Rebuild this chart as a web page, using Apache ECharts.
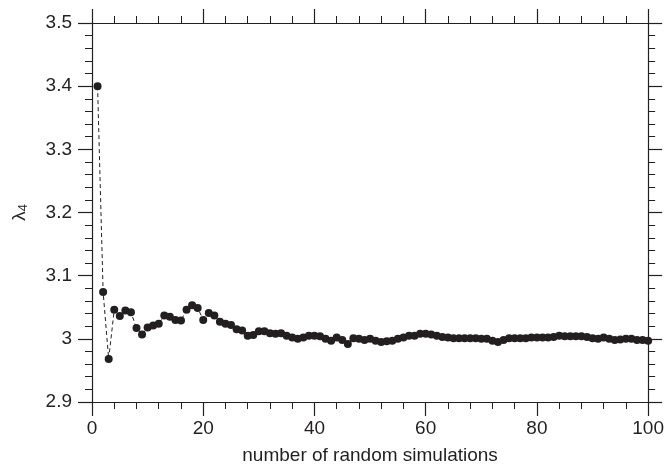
<!DOCTYPE html>
<html>
<head>
<meta charset="utf-8">
<script src="https://cdn.jsdelivr.net/npm/echarts@6/dist/echarts.min.js"></script>
<style>
  html, body { margin: 0; padding: 0; background: #fff; }
  #chart { width: 667px; height: 472px; }
</style>
</head>
<body>
<div id="chart"></div>
<script>
// number of random simulations (1..100)
const simCounts = [];
for (let i = 1; i <= 100; i++) simCounts.push(i);

// lambda_4 estimate after each simulation
const lambda4 = [
  3.400, 3.074, 2.968, 3.046, 3.036, 3.045, 3.042, 3.017, 3.007, 3.018,
  3.021, 3.024, 3.037, 3.035, 3.030, 3.029, 3.046, 3.053, 3.049, 3.030,
  3.041, 3.037, 3.027, 3.024, 3.022, 3.015, 3.013, 3.005, 3.006, 3.012,
  3.012, 3.009, 3.008, 3.009, 3.005, 3.002, 3.000, 3.002, 3.005, 3.005,
  3.004, 3.000, 2.997, 3.002, 2.998, 2.992, 3.001, 3.000, 2.998, 3.000,
  2.997, 2.995, 2.996, 2.997, 3.000, 3.002, 3.005, 3.005, 3.008, 3.008,
  3.007, 3.005, 3.003, 3.002, 3.001, 3.001, 3.001, 3.001, 3.001, 3.000,
  3.000, 2.997, 2.995, 2.998, 3.001, 3.001, 3.001, 3.001, 3.002, 3.002,
  3.002, 3.002, 3.003, 3.005, 3.004, 3.004, 3.004, 3.004, 3.003, 3.001,
  3.000, 3.002, 3.000, 2.998, 2.999, 3.000, 3.000, 2.998, 2.998, 2.997
];

const xTicks = [0, 20, 40, 60, 80, 100];
const yTicks = [2.9, 3, 3.1, 3.2, 3.3, 3.4, 3.5];

const ink = '#231f20';
const font = 'Liberation Sans, Arial, sans-serif';

const chart = echarts.init(document.getElementById('chart'));

const axisLine = { show: true, onZero: false, lineStyle: { color: ink, width: 1.2 } };
const majorTick = { show: true, inside: false, length: 14, lineStyle: { color: ink, width: 1.2 } };
const minorTick = { show: true, splitNumber: 5, length: 7, lineStyle: { color: ink, width: 1 } };

const xBase = {
  type: 'value',
  min: xTicks[0],
  max: xTicks[xTicks.length - 1],
  interval: 20,
  axisLine: axisLine,
  axisTick: majorTick,
  minorTick: minorTick,
  splitLine: { show: false }
};
const yBase = {
  type: 'value',
  min: yTicks[0],
  max: yTicks[yTicks.length - 1],
  interval: 0.1,
  axisLine: axisLine,
  axisTick: majorTick,
  minorTick: minorTick,
  splitLine: { show: false }
};

const option = {
  backgroundColor: '#fff',
  animation: false,
  grid: { left: 92, right: 15, top: 23, bottom: 70 },
  xAxis: [
    Object.assign({}, xBase, {
      position: 'bottom',
      name: 'number of random simulations',
      nameLocation: 'middle',
      nameGap: 44,
      nameTextStyle: { color: ink, fontFamily: font, fontSize: 19 },
      axisLabel: { color: ink, fontFamily: font, fontSize: 19, margin: 17 }
    }),
    Object.assign({}, xBase, { position: 'top', axisLabel: { show: false } })
  ],
  yAxis: [
    Object.assign({}, yBase, {
      position: 'left',
      name: '{l|λ}{s|4}',
      nameLocation: 'middle',
      nameGap: 62,
      nameRotate: 90,
      nameTextStyle: {
        rich: {
          l: { color: ink, fontFamily: font, fontSize: 19 },
          s: { color: ink, fontFamily: font, fontSize: 13, verticalAlign: 'bottom', padding: [8, 0, 0, 0] }
        }
      },
      axisLabel: {
        color: ink, fontFamily: font, fontSize: 19, margin: 20,
        formatter: function (v) { return String(+v.toFixed(1)); }
      }
    }),
    Object.assign({}, yBase, { position: 'right', axisLabel: { show: false } })
  ],
  series: [{
    type: 'line',
    data: simCounts.map(function (x, i) { return [x, lambda4[i]]; }),
    symbol: 'circle',
    symbolSize: 8,
    showAllSymbol: true,
    itemStyle: { color: ink },
    lineStyle: { color: ink, width: 1, type: [4, 3] }
  }]
};

chart.setOption(option);
</script>
</body>
</html>
